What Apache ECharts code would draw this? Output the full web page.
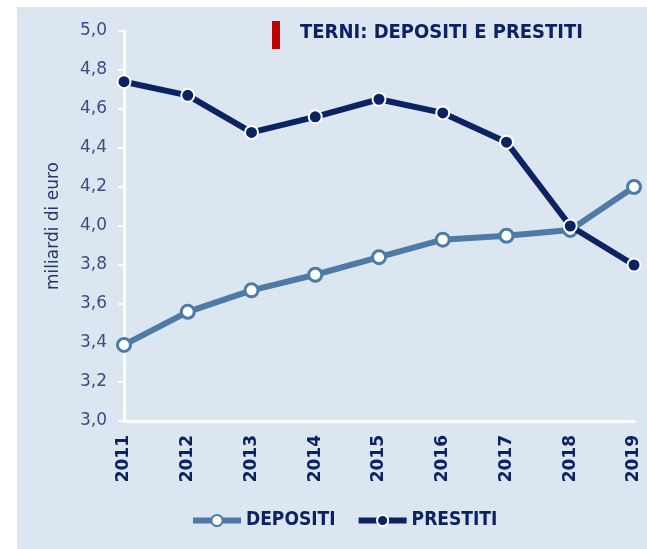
<!DOCTYPE html>
<html>
<head>
<meta charset="utf-8">
<script src="https://cdn.jsdelivr.net/npm/echarts@6/dist/echarts.min.js"></script>
<style>
  html, body { margin: 0; padding: 0; background: #ffffff; }
  #chart { width: 647px; height: 549px; }
</style>
</head>
<body>
<div id="chart"></div>
<script>
// Data
const years = ['2011', '2012', '2013', '2014', '2015', '2016', '2017', '2018', '2019'];
const depositi = [3.39, 3.56, 3.67, 3.75, 3.84, 3.93, 3.95, 3.98, 4.20];
const prestiti = [4.74, 4.67, 4.48, 4.56, 4.65, 4.58, 4.43, 4.00, 3.80];

const navy = '#0b2361';
const steel = '#4d7aa7';
const narrow = '"Liberation Sans Narrow", "DejaVu Sans Condensed", sans-serif';

const chart = echarts.init(document.getElementById('chart'));
chart.setOption({
  animation: false,
  backgroundColor: '#ffffff',
  graphic: [
    { type: 'rect', z: -10, shape: { x: 17, y: 7, width: 640, height: 550 }, style: { fill: '#dce6f1' } },
    { type: 'rect', shape: { x: 272, y: 21, width: 8, height: 28 }, style: { fill: '#c00000' } },
    {
      type: 'text', left: 300, top: 23,
      style: { text: 'TERNI: DEPOSITI E PRESTITI', fill: navy, font: 'bold 20px ' + narrow }
    }
  ],
  grid: { left: 124, right: 13, top: 31, bottom: 128 },
  legend: {
    bottom: 14,
    left: 185,
    itemWidth: 48,
    itemHeight: 14,
    itemGap: 20,
    lineStyle: { width: 6 },
    textStyle: { color: navy, fontSize: 19, fontWeight: 'bold', fontFamily: narrow },
    data: ['DEPOSITI', 'PRESTITI']
  },
  xAxis: {
    type: 'category',
    data: years,
    boundaryGap: false,
    axisLine: { lineStyle: { color: '#ffffff', width: 3 } },
    axisTick: { show: false },
    axisLabel: {
      rotate: 90,
      margin: 14,
      color: navy,
      fontSize: 17,
      fontWeight: 'bold',
      fontFamily: '"DejaVu Sans", sans-serif'
    }
  },
  yAxis: {
    type: 'value',
    min: 3.0,
    max: 5.0,
    interval: 0.2,
    name: 'miliardi di euro',
    nameLocation: 'middle',
    nameGap: 62,
    nameTextStyle: { color: '#24386b', fontSize: 17, fontFamily: '"DejaVu Sans", sans-serif' },
    axisLine: { show: true, lineStyle: { color: '#ffffff', width: 3 } },
    axisTick: { show: true, length: 6, lineStyle: { color: '#ffffff', width: 2 } },
    splitLine: { show: false },
    axisLabel: {
      margin: 17,
      color: '#3a4d80',
      fontSize: 17,
      fontFamily: '"DejaVu Sans", sans-serif',
      formatter: v => v.toFixed(1).replace('.', ',')
    }
  },
  series: [
    {
      name: 'DEPOSITI',
      type: 'line',
      data: depositi,
      symbol: 'circle',
      symbolSize: 13,
      lineStyle: { color: steel, width: 6 },
      itemStyle: { color: '#ffffff', borderColor: steel, borderWidth: 3 },
      z: 2
    },
    {
      name: 'PRESTITI',
      type: 'line',
      data: prestiti,
      symbol: 'circle',
      symbolSize: 13,
      lineStyle: { color: navy, width: 6 },
      itemStyle: { color: navy, borderColor: '#ffffff', borderWidth: 2 },
      z: 3
    }
  ]
});
</script>
</body>
</html>
